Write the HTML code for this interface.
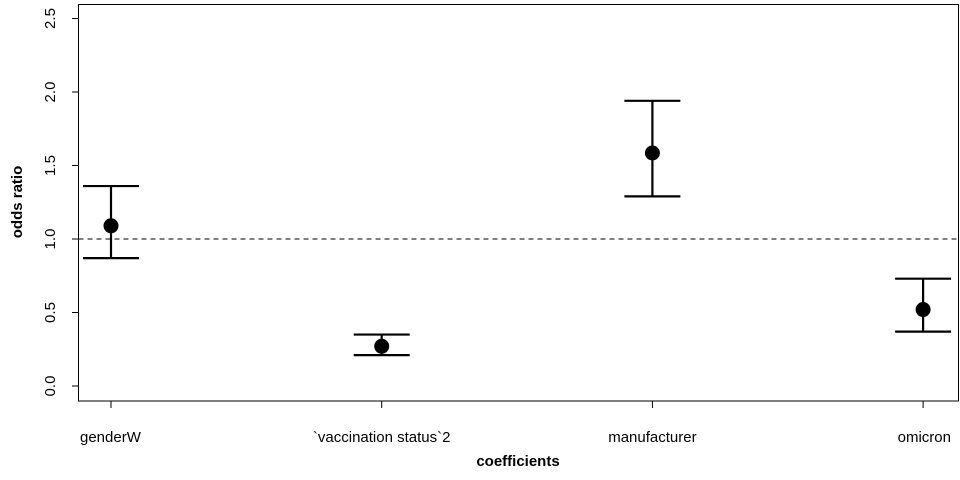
<!DOCTYPE html>
<html><head><meta charset="utf-8"><style>body{margin:0;background:#fff}svg{display:block;font-family:"Liberation Sans",Arial,sans-serif}</style></head>
<body>
<svg id="c" width="960" height="480">
<rect x="78.5" y="4.5" width="880" height="396.5" fill="none" stroke="#000" stroke-width="1"/>
<text x="22" y="202" transform="rotate(-90 22 202)" text-anchor="middle" font-size="15" font-weight="bold">odds ratio</text>
<text x="518" y="466" text-anchor="middle" font-size="15" font-weight="bold">coefficients</text>
</svg>
<script>
const categories=["genderW","`vaccination status`2","manufacturer","omicron"];
const estimates=[1.09,0.27,1.585,0.52];
const upper=[1.36,0.35,1.94,0.73];
const lower=[0.87,0.21,1.29,0.37];
const yTicks=["0.0","0.5","1.0","1.5","2.0","2.5"];
const svg=document.getElementById('c');
const NS="http://www.w3.org/2000/svg";
const y=v=>386-147*v;
const x=i=>111+i*270.7;
function mk(t,a){const e=document.createElementNS(NS,t);for(const k in a)e.setAttribute(k,a[k]);svg.appendChild(e);return e;}
yTicks.forEach(t=>{const v=parseFloat(t);const yy=y(v);
 const l=mk('line',{x1:72,x2:78.5,y1:yy,y2:yy,stroke:'#000'});
 
 
 const tx=mk('text',{x:55,y:yy,transform:`rotate(-90 55 ${yy})`,'text-anchor':'middle','font-size':15});
 tx.textContent=t;
 
 
});
const ref=mk('line',{x1:78.5,x2:958.5,y1:y(1),y2:y(1),stroke:'#000','stroke-dasharray':'5,4'});


categories.forEach((c,i)=>{const xx=x(i);
 const t=mk('line',{x1:xx,x2:xx,y1:401,y2:408,stroke:'#000'});
 
 
 const anchor=i===0?'start':(i===categories.length-1?'end':'middle');
 const lx=i===0?80:(i===categories.length-1?951:xx);
 const lb=mk('text',{x:lx,y:442,'text-anchor':anchor,'font-size':15});
 lb.textContent=c;
 
 
 const g=mk('g',{stroke:'#000','stroke-width':2.2});
 
 
 [['line',{x1:xx,x2:xx,y1:y(upper[i]),y2:y(lower[i])}],['line',{x1:xx-28,x2:xx+28,y1:y(upper[i]),y2:y(upper[i])}],['line',{x1:xx-28,x2:xx+28,y1:y(lower[i]),y2:y(lower[i])}]].forEach(([tg,a])=>{const e=document.createElementNS(NS,tg);for(const k in a)e.setAttribute(k,a[k]);g.appendChild(e);});
 const p=mk('circle',{cx:xx,cy:y(estimates[i]),r:7.5,fill:'#000'});
 
 
});
</script>
</body></html>
